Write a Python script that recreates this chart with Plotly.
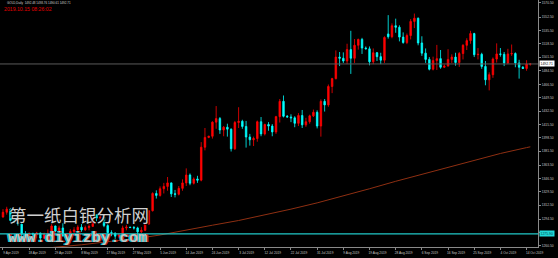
import plotly.graph_objects as go

# ---------------- data ----------------
opens = [1297.5,1303.5,1307.5,1293.0,1290.5,1288.5,1275.5,1273.5,1276.0,1275.5,
         1277.0,1270.5,1275.5,1276.5,1286.0,1279.5,1283.5,1273.5,1270.5,1279.0,
         1281.0,1284.5,1281.0,1284.0,1285.5,1300.5,1296.0,1297.5,1286.5,1277.5,
         1277.0,1273.0,1274.5,1283.5,1284.5,1284.0,1283.5,1278.5,1280.5,1288.5,
         1305.5,1327.5,1325.0,1333.5,1336.5,1341.0,1327.0,1326.5,1334.0,1341.0,
         1351.0,1340.5,1346.0,1344.5,1386.5,1399.0,1400.5,1418.5,1423.0,1408.5,
         1412.0,1409.5,1384.5,1418.0,1419.5,1413.0,1399.5,1396.0,1397.5,1419.0,
         1403.5,1415.5,1413.5,1406.0,1425.5,1445.0,1426.0,1425.0,1424.0,1417.0,
         1427.0,1415.0,1419.0,1426.5,1431.0,1413.5,1445.0,1440.5,1464.0,1474.0,
         1501.5,1500.0,1496.5,1511.0,1500.0,1516.5,1524.0,1513.0,1512.0,1495.5,
         1507.0,1502.0,1497.5,1531.0,1527.5,1541.5,1539.5,1527.0,1520.0,1529.0,
         1547.0,1551.0,1519.5,1506.5,1498.5,1486.0,1497.0,1499.5,1488.5,1490.0,
         1498.5,1501.5,1494.5,1506.0,1516.5,1522.5,1531.5,1504.5,1505.0,1489.5,
         1472.5,1479.0,1499.0,1505.5,1505.0,1494.0,1505.5,1506.0,1494.0,1488.5,
         1487.0,1492.48]
highs = [1307.5,1310.5,1309.0,1297.5,1294.0,1289.5,1279.5,1278.0,1277.5,1278.5,
         1277.5,1277.5,1281.5,1288.5,1286.5,1286.5,1289.5,1275.0,1282.0,1284.5,
         1287.0,1288.5,1286.5,1288.5,1302.5,1300.5,1300.0,1298.0,1289.0,1280.5,
         1277.5,1276.5,1286.5,1287.5,1285.0,1286.0,1285.0,1284.5,1291.0,1306.0,
         1329.0,1331.5,1336.5,1341.0,1348.5,1341.5,1332.0,1337.0,1345.5,1359.5,
         1353.0,1348.0,1350.0,1393.0,1411.0,1401.0,1419.5,1439.0,1425.0,1413.5,
         1416.5,1410.5,1420.0,1437.5,1421.5,1420.0,1403.5,1400.0,1420.5,1425.0,
         1416.5,1418.5,1416.0,1426.5,1448.0,1452.5,1427.5,1428.5,1426.0,1430.0,
         1434.0,1424.0,1428.0,1434.5,1433.5,1447.5,1448.0,1466.5,1475.0,1510.0,
         1508.0,1507.5,1518.5,1535.0,1524.5,1525.0,1526.0,1515.0,1515.0,1512.5,
         1508.0,1507.0,1528.0,1555.0,1544.5,1550.5,1542.0,1533.0,1531.5,1550.0,
         1557.0,1552.0,1528.0,1512.5,1501.5,1502.0,1517.0,1510.5,1492.0,1511.5,
         1505.0,1507.0,1508.0,1518.0,1525.5,1535.0,1532.5,1513.0,1507.0,1496.5,
         1482.0,1501.0,1519.0,1513.0,1508.0,1512.0,1517.5,1507.5,1498.0,1490.0,
         1497.5,1493.76]
lows = [1296.5,1300.5,1291.0,1289.5,1286.5,1272.5,1270.5,1270.0,1273.5,1270.5,
        1266.0,1269.5,1271.5,1275.0,1278.0,1278.5,1272.5,1266.5,1267.5,1277.0,
        1279.0,1278.5,1280.0,1280.5,1285.0,1292.0,1293.0,1284.5,1275.5,1273.0,
        1269.5,1270.5,1273.0,1280.5,1283.5,1281.5,1274.5,1277.0,1279.5,1287.5,
        1304.5,1321.0,1323.5,1327.5,1331.0,1323.0,1322.5,1325.0,1331.0,1337.0,
        1338.0,1339.0,1341.0,1343.0,1382.5,1398.0,1397.5,1410.0,1403.5,1400.5,
        1400.0,1381.0,1383.0,1411.0,1410.0,1386.0,1388.5,1388.0,1393.5,1400.5,
        1401.5,1407.5,1400.5,1403.5,1418.0,1424.5,1424.5,1418.5,1412.0,1413.5,
        1411.0,1412.5,1416.5,1425.0,1410.5,1400.0,1432.0,1438.0,1455.5,1473.0,
        1490.0,1494.0,1492.5,1480.0,1494.0,1511.0,1505.5,1511.5,1491.0,1492.5,
        1496.5,1492.5,1494.0,1525.0,1525.5,1532.5,1521.5,1518.5,1518.0,1524.0,
        1538.5,1516.5,1503.0,1494.0,1484.5,1484.5,1485.0,1486.5,1487.5,1489.5,
        1494.0,1490.5,1489.0,1498.5,1510.5,1518.5,1501.5,1498.5,1486.5,1465.5,
        1459.0,1475.0,1494.5,1502.0,1490.0,1492.5,1503.0,1488.5,1474.0,1486.5,
        1484.0,1490.61]
closes = [1303.5,1307.5,1293.0,1290.5,1288.5,1275.5,1273.5,1276.0,1275.5,1277.0,
          1270.5,1275.5,1276.5,1286.0,1279.5,1283.5,1273.5,1270.5,1279.0,1281.0,
          1284.5,1281.0,1284.0,1285.5,1300.5,1296.0,1297.5,1286.5,1277.5,1277.0,
          1273.0,1274.5,1283.5,1284.5,1284.0,1283.5,1278.5,1280.5,1288.5,1305.5,
          1327.5,1325.0,1333.5,1336.5,1341.0,1327.0,1326.5,1334.0,1341.0,1351.0,
          1340.5,1346.0,1344.5,1386.5,1399.0,1400.5,1418.5,1423.0,1408.5,1412.0,
          1409.5,1384.5,1418.0,1419.5,1413.0,1399.5,1396.0,1397.5,1419.0,1403.5,
          1415.5,1413.5,1406.0,1425.5,1445.0,1426.0,1425.0,1424.0,1417.0,1427.0,
          1415.0,1419.0,1426.5,1431.0,1413.5,1445.0,1440.5,1464.0,1474.0,1501.5,
          1500.0,1496.5,1511.0,1500.0,1516.5,1524.0,1513.0,1512.0,1495.5,1507.0,
          1502.0,1497.5,1526.5,1527.5,1541.5,1539.5,1527.0,1520.0,1529.0,1547.0,
          1551.0,1519.5,1506.5,1498.5,1486.0,1497.0,1499.5,1488.5,1490.0,1498.5,
          1501.5,1494.5,1506.0,1516.5,1522.5,1531.5,1504.5,1505.0,1489.5,1472.5,
          1479.0,1499.0,1505.5,1505.0,1494.0,1505.5,1506.0,1494.0,1488.5,1487.0,
          1492.5,1492.71]

# moving average line, read every 7 bars
ma_bars = [0, 7, 14, 21, 28, 35, 42, 49, 56, 63, 70, 77, 84, 91, 98, 105, 112, 119, 126, 133, 140, 141]
ma_values = [1250.0, 1255.0, 1259.0, 1262.0, 1266.0, 1269.5, 1274.5, 1281.0, 1287.0, 1293.0, 1300.0,
             1307.5, 1315.5, 1324.0, 1333.5, 1343.0, 1352.0, 1361.0, 1370.0, 1378.5, 1386.0, 1387.0]

date_label_bars = [0, 7, 14, 21, 28, 35, 42, 49, 56, 63, 70, 77, 84, 91, 98, 105, 112, 119, 126, 133, 140]
date_labels = ["9 Apr 2019", "18 Apr 2019", "29 Apr 2019", "8 May 2019", "17 May 2019", "27 May 2019",
               "5 Jun 2019", "14 Jun 2019", "24 Jun 2019", "3 Jul 2019", "12 Jul 2019", "22 Jul 2019",
               "31 Jul 2019", "9 Aug 2019", "19 Aug 2019", "28 Aug 2019", "6 Sep 2019", "16 Sep 2019",
               "25 Sep 2019", "4 Oct 2019", "14 Oct 2019"]

price_ticks = [1260.50, 1277.50, 1294.50, 1312.50, 1329.50, 1346.50, 1363.50, 1381.50, 1398.50,
               1415.50, 1432.50, 1449.50, 1466.50, 1484.50, 1501.50, 1518.50, 1535.50, 1552.50, 1570.50]

current_price = 1492.71
hline_price = 1275.90
header = "GOLD,Daily  1492.48 1493.76 1490.61 1492.71"
timestamp = "2019.10.15 08:26:02"
watermark_cn = "第一纸白银分析网"
watermark_url = "www.diyizby.com"

# ---------------- figure ----------------
W, H = 558, 258
PW, PH = 538, 247
bars = list(range(len(opens)))

fig = go.Figure()
fig.add_trace(go.Scatter(x=ma_bars, y=ma_values, mode="lines",
                         line=dict(color="#8e2f12", width=1), hoverinfo="skip"))
fig.add_trace(go.Candlestick(
    x=bars, open=opens, high=highs, low=lows, close=closes,
    increasing=dict(line=dict(color="#ff0000", width=0.8), fillcolor="#ff0000"),
    decreasing=dict(line=dict(color="#00ffff", width=0.8), fillcolor="#00ffff"),
    whiskerwidth=0,
))

fig.add_shape(type="line", xref="paper", yref="y", x0=0, x1=1, y0=current_price, y1=current_price,
              line=dict(color="#5a5a5a", width=1))
fig.add_shape(type="line", xref="paper", yref="y", x0=0, x1=1, y0=hline_price, y1=hline_price,
              line=dict(color="#20c8c8", width=1.2))

def px(xp):
    return xp / PW

def py(yp):
    return 1 - yp / PH

ann = []
ann.append(dict(x=px(5), y=py(3), xref="paper", yref="paper", text=header, showarrow=False,
                xanchor="left", yanchor="middle", font=dict(family="Liberation Sans", size=3, color="#d0d0d0")))
ann.append(dict(x=px(1.5), y=py(9.5), xref="paper", yref="paper", text=timestamp, showarrow=False,
                xanchor="left", yanchor="middle", font=dict(family="Liberation Sans", size=5.2, color="#e00000")))
# price boxes on axis
ann.append(dict(x=1.002, y=current_price, xref="paper", yref="y", text=f"{current_price:.2f}", showarrow=False,
                xanchor="left", yanchor="middle", bgcolor="#ffffff", borderpad=0.6,
                font=dict(family="Liberation Sans", size=3.4, color="#000000")))
ann.append(dict(x=1.002, y=hline_price, xref="paper", yref="y", text=f"{hline_price:.2f}", showarrow=False,
                xanchor="left", yanchor="middle", bgcolor="#20d8d8", borderpad=0.6,
                font=dict(family="Liberation Sans", size=3.4, color="#004040")))
# watermark (single text, chromatic fringe via text shadow)
ann.append(dict(x=px(78), y=py(238), xref="paper", yref="paper", text=watermark_url,
                showarrow=False, xanchor="center", yanchor="middle",
                font=dict(family="Liberation Mono", size=15.5, color="#c4c4c4", weight="bold",
                          shadow="-1.2px 0 0 #00c8c8, 1.2px 0 0 #c82020")))
ann.append(dict(x=px(79), y=py(214), xref="paper", yref="paper", text=watermark_cn, showarrow=False,
                xanchor="center", yanchor="middle",
                font=dict(family="Noto Sans CJK SC", size=17.5, color="#cfcfcf",
                          shadow="1px 1px 1px #000, -1px -1px 1px #000")))

fig.update_layout(
    width=W, height=H,
    margin=dict(l=0, r=W - PW, t=0, b=H - PH),
    paper_bgcolor="#000000", plot_bgcolor="#000000",
    showlegend=False, boxgap=0.42,
    annotations=ann,
    xaxis=dict(range=[-0.8, 143.05], tickmode="array", tickvals=date_label_bars, ticktext=date_labels,
               showgrid=False, zeroline=False, showline=True, linecolor="#8a8a8a", linewidth=1,
               ticks="outside", ticklen=2, tickcolor="#8a8a8a", ticklabelshift=8,
               tickfont=dict(family="Liberation Sans", size=3.2, color="#c8c8c8"),
               rangeslider=dict(visible=False), fixedrange=True),
    yaxis=dict(range=[1259.2, 1574.3], side="right", tickmode="array", tickvals=price_ticks,
               ticktext=[f"{v:.2f}" for v in price_ticks],
               showgrid=False, zeroline=False, showline=True, linecolor="#8a8a8a", linewidth=1,
               ticks="outside", ticklen=2, tickcolor="#8a8a8a",
               tickfont=dict(family="Liberation Sans", size=3.3, color="#c8c8c8"), fixedrange=True),
)

fig.write_html("out.html", config={"displayModeBar": False})
